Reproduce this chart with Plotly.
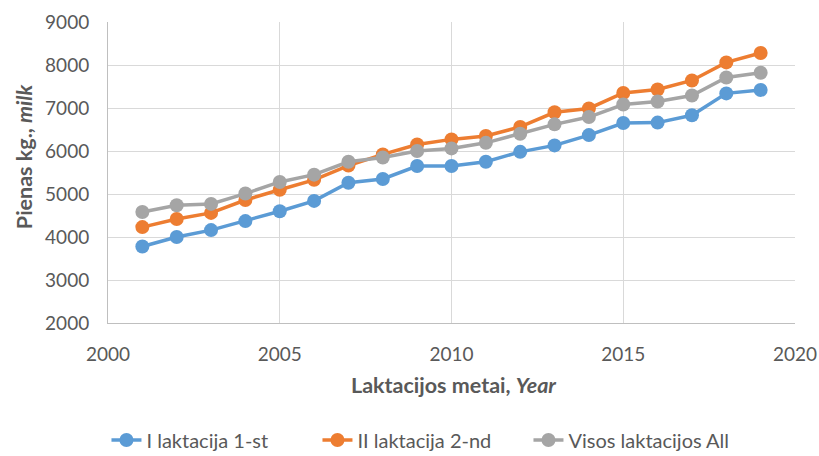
import plotly.graph_objects as go

years = list(range(2001, 2020))
first_lact = [3780, 4000, 4160, 4370, 4600, 4840, 5260, 5350, 5650, 5650,
              5750, 5980, 6130, 6370, 6650, 6660, 6830, 7340, 7420]
second_lact = [4230, 4420, 4560, 4860, 5100, 5330, 5660, 5920, 6150, 6270,
               6350, 6560, 6900, 6990, 7350, 7430, 7640, 8060, 8280]
all_lact = [4580, 4740, 4770, 5010, 5280, 5450, 5750, 5850, 6000, 6060,
            6190, 6400, 6620, 6790, 7080, 7150, 7290, 7710, 7820]

series = [
    ("I laktacija 1-st", first_lact, "#5B9BD5"),
    ("II laktacija 2-nd", second_lact, "#ED7D31"),
    ("Visos laktacijos All", all_lact, "#A5A5A5"),
]

fig = go.Figure()
for name, vals, color in series:
    fig.add_trace(go.Scatter(
        x=years, y=vals, name=name, mode="lines+markers",
        line=dict(color=color, width=3.5),
        marker=dict(color=color, size=14),
    ))

font_family = "Lato, Open Sans, sans-serif"
text_color = "#595959"

fig.update_layout(
    width=819, height=456,
    margin=dict(l=108, r=24, t=22, b=133, autoexpand=False),
    paper_bgcolor="white", plot_bgcolor="white",
    font=dict(family=font_family, color=text_color, size=19),
    showlegend=True,
    legend=dict(orientation="h", xref="container", yref="container",
                x=0.13, xanchor="left", y=0.035, yanchor="middle",
                font=dict(size=20, color=text_color),
                entrywidth=166, entrywidthmode="pixels"),
    xaxis=dict(
        range=[2000, 2020], dtick=5, tick0=2000,
        showgrid=True, gridcolor="#D9D9D9", gridwidth=1,
        showline=True, linecolor="#BFBFBF", zeroline=False,
        ticklabelstandoff=14,
    ),
    yaxis=dict(
        range=[2000, 9000], dtick=1000,
        showgrid=True, gridcolor="#D9D9D9", gridwidth=1,
        showline=True, linecolor="#BFBFBF", zeroline=False,
        ticklabelstandoff=14,
    ),
)

# axis titles as annotations so they sit where the original puts them
fig.add_annotation(
    text="<b>Laktacijos metai, <i>Year</i></b>",
    xref="paper", yref="paper", x=0.503, y=-0.206,
    xanchor="center", yanchor="middle", showarrow=False,
    font=dict(size=21.5, color=text_color),
)
fig.add_annotation(
    text="<b>Pienas kg., <i>milk</i></b>",
    xref="paper", yref="paper", x=-0.122, y=0.555,
    xanchor="center", yanchor="middle", textangle=-90, showarrow=False,
    font=dict(size=21.5, color=text_color),
)

# drop the browser's default body margin so the figure sits at the page corner
fig.write_html("out.html", config={"displayModeBar": False},
               post_script="document.body.style.margin = '0';")
